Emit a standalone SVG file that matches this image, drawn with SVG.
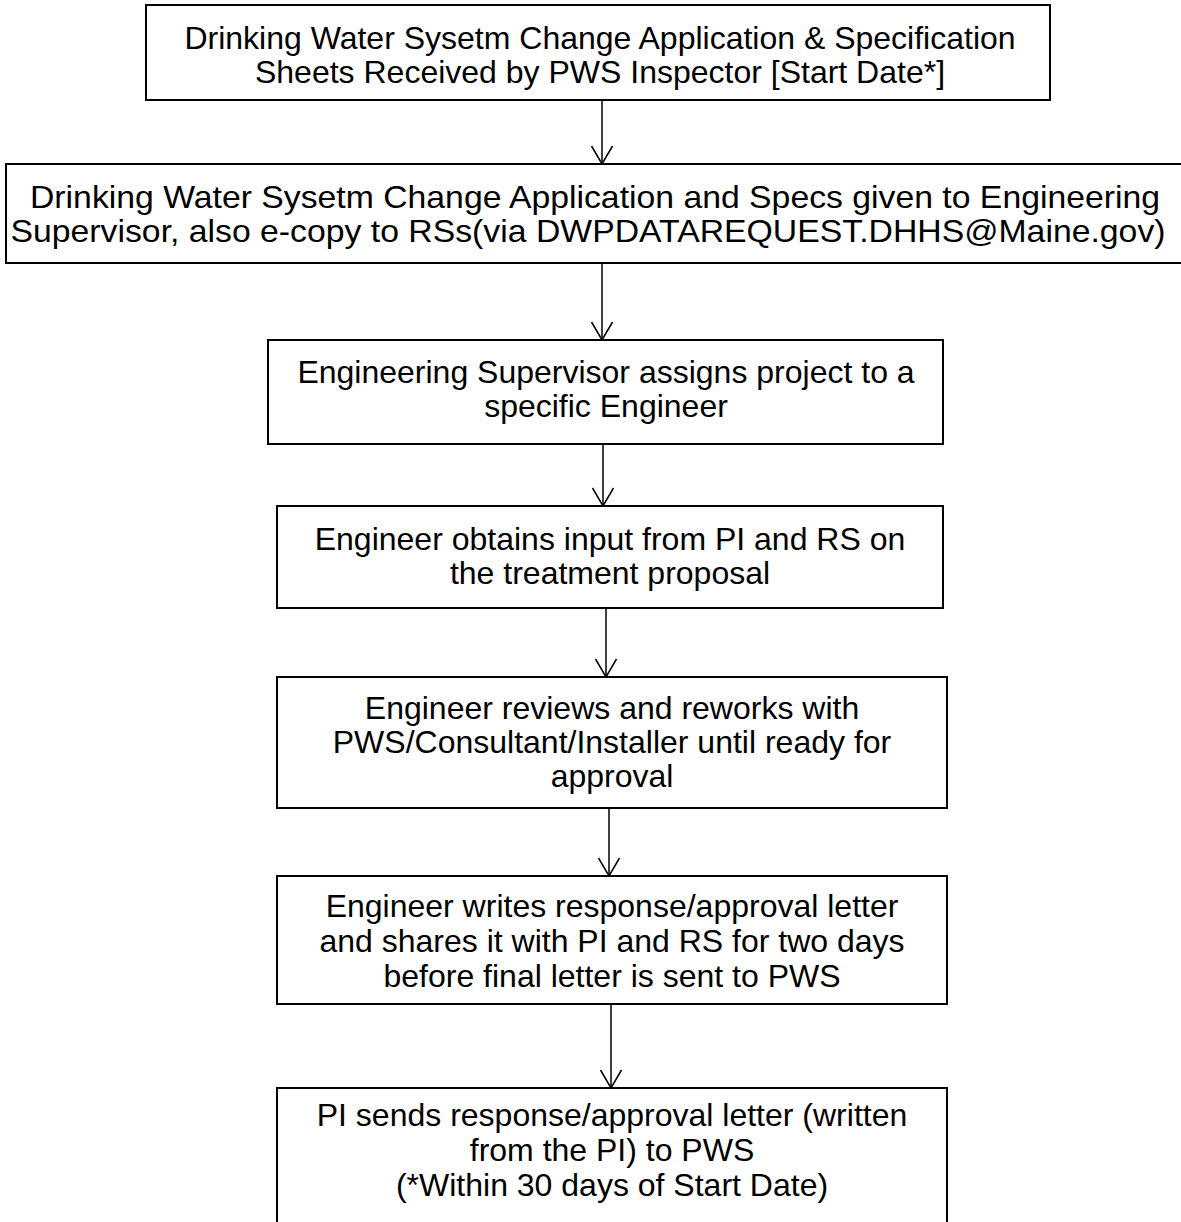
<svg xmlns="http://www.w3.org/2000/svg" width="1181" height="1222" viewBox="0 0 1181 1222">
<defs>
<marker id="arr" markerWidth="24" markerHeight="24" refX="20" refY="12" orient="auto" markerUnits="userSpaceOnUse">
<path d="M2,1.5 L20,12 L2,22.5" fill="none" stroke="#000" stroke-width="1.5"/>
</marker>
<style>
.box{fill:#fff;stroke:#000;stroke-width:2}
.t{font-family:"Liberation Sans",Arial,sans-serif;font-size:32px;fill:#000;text-anchor:middle}
.c{stroke:#000;stroke-width:1.5;fill:none;marker-end:url(#arr)}
</style>
</defs>
<rect width="1181" height="1222" fill="#fff"/>
<g id="connectors">
<line class="c" x1="602" y1="100" x2="602" y2="164"/>
<line class="c" x1="602" y1="263" x2="602" y2="340"/>
<line class="c" x1="603" y1="444" x2="603" y2="506"/>
<line class="c" x1="606" y1="608" x2="606" y2="677"/>
<line class="c" x1="609" y1="808" x2="609" y2="876"/>
<line class="c" x1="611" y1="1004" x2="611" y2="1088"/>
</g>
<g id="n1">
<rect class="box" x="146" y="5" width="904" height="95"/>
<text class="t" x="600" y="49">Drinking Water Sysetm Change Application &amp; Specification</text>
<text class="t" x="600" y="83">Sheets Received by PWS Inspector [Start Date*]</text>
</g>
<g id="n2">
<rect class="box" x="6" y="164" width="1180" height="99"/>
<text class="t" x="595" y="208" textLength="1130" lengthAdjust="spacingAndGlyphs">Drinking Water Sysetm Change Application and Specs given to Engineering</text>
<text class="t" x="588" y="242" textLength="1155" lengthAdjust="spacingAndGlyphs">Supervisor, also e-copy to RSs(via DWPDATAREQUEST.DHHS@Maine.gov)</text>
</g>
<g id="n3">
<rect class="box" x="268" y="340" width="675" height="104"/>
<text class="t" x="606" y="383">Engineering Supervisor assigns project to a</text>
<text class="t" x="606" y="417">specific Engineer</text>
</g>
<g id="n4">
<rect class="box" x="277" y="506" width="666" height="102"/>
<text class="t" x="610" y="550">Engineer obtains input from PI and RS on</text>
<text class="t" x="610" y="584">the treatment proposal</text>
</g>
<g id="n5">
<rect class="box" x="277" y="677" width="670" height="131"/>
<text class="t" x="612" y="719">Engineer reviews and reworks with</text>
<text class="t" x="612" y="753">PWS/Consultant/Installer until ready for</text>
<text class="t" x="612" y="787">approval</text>
</g>
<g id="n6">
<rect class="box" x="277" y="876" width="670" height="128"/>
<text class="t" x="612" y="917">Engineer writes response/approval letter</text>
<text class="t" x="612" y="952">and shares it with PI and RS for two days</text>
<text class="t" x="612" y="987">before final letter is sent to PWS</text>
</g>
<g id="n7">
<rect class="box" x="277" y="1088" width="670" height="150"/>
<text class="t" x="612" y="1126">PI sends response/approval letter (written</text>
<text class="t" x="612" y="1161">from the PI) to PWS</text>
<text class="t" x="612" y="1196">(*Within 30 days of Start Date)</text>
</g>
</svg>
